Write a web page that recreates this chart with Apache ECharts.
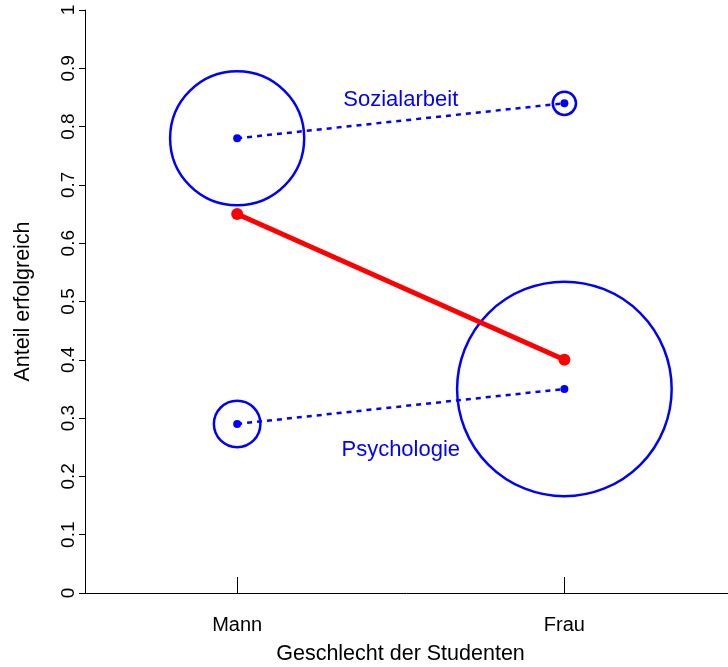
<!DOCTYPE html>
<html>
<head>
<meta charset="utf-8">
<script src="https://cdn.jsdelivr.net/npm/echarts@6/dist/echarts.min.js"></script>
<style>html,body{margin:0;padding:0;background:#fff}#c{width:728px;height:667px}</style>
</head>
<body>
<div id="c"></div>
<script>
var categories = ['Mann', 'Frau'];
var sozialarbeit = [0.78, 0.84];
var psychologie = [0.29, 0.35];
var gesamt = [0.65, 0.40];
var nSozialarbeit = [150, 26];
var nPsychologie = [52, 240];
var yTicks = [0, 0.1, 0.2, 0.3, 0.4, 0.5, 0.6, 0.7, 0.8, 0.9, 1];

var rScale = 0.447;
var blue = '#0000ff';
var red = '#ff0000';
var font = '"Liberation Sans", Arial, sans-serif';

function pts(arr) { return arr.map(function (v, i) { return [i, v]; }); }
function circles(arr, n) { return arr.map(function (v, i) { return { value: [i, v], symbolSize: 2 * n[i] * rScale }; }); }

var chart = echarts.init(document.getElementById('c'));
chart.setOption({
  animation: false,
  grid: { left: 85, right: 0, top: 10, bottom: 74, outerBoundsMode: 'none', containLabel: false },
  xAxis: {
    type: 'value', min: -0.465, max: 1.5,
    name: 'Geschlecht der Studenten', nameLocation: 'middle', nameGap: 50,
    nameTextStyle: { fontFamily: font, fontSize: 21.5, color: '#000', padding: [0, 12, 0, 0] },
    axisLine: { show: true, onZero: false, lineStyle: { color: '#000', width: 1 } },
    axisTick: { show: true, inside: true, length: 16, customValues: [0, 1], lineStyle: { color: '#000' } },
    axisLabel: { customValues: [0, 1], fontFamily: font, fontSize: 20, color: '#000', margin: 22,
      formatter: function (v) { return categories[Math.round(v)]; } },
    splitLine: { show: false }
  },
  yAxis: {
    type: 'value', min: 0, max: 1, interval: 0.1,
    name: 'Anteil erfolgreich', nameLocation: 'middle', nameGap: 51, nameRotate: 90,
    nameTextStyle: { fontFamily: font, fontSize: 21.5, color: '#000' },
    axisLine: { show: true, onZero: false, lineStyle: { color: '#000', width: 1 } },
    axisTick: { show: true, length: 6, lineStyle: { color: '#000' } },
    axisLabel: { rotate: 90, fontFamily: font, fontSize: 19, color: '#000', margin: 7,
      customValues: yTicks,
      formatter: function (v) { return String(Math.round(v * 10) / 10); } },
    splitLine: { show: false }
  },
  series: [
    { type: 'line', data: pts(sozialarbeit), symbol: 'circle', symbolSize: 8,
      itemStyle: { color: blue }, lineStyle: { color: blue, width: 2.5, type: [5, 5] } },
    { type: 'line', data: pts(psychologie), symbol: 'circle', symbolSize: 8,
      itemStyle: { color: blue }, lineStyle: { color: blue, width: 2.5, type: [5, 5] } },
    { type: 'scatter', data: circles(sozialarbeit, nSozialarbeit), symbol: 'circle',
      itemStyle: { color: 'rgba(0,0,0,0)', borderColor: blue, borderWidth: 2.5, opacity: 1 }, z: 3 },
    { type: 'scatter', data: circles(psychologie, nPsychologie), symbol: 'circle',
      itemStyle: { color: 'rgba(0,0,0,0)', borderColor: blue, borderWidth: 2.5, opacity: 1 }, z: 3 },
    { type: 'line', data: pts(gesamt), symbol: 'circle', symbolSize: 12,
      itemStyle: { color: red }, lineStyle: { color: red, width: 5 }, z: 4 },
    { type: 'scatter', symbolSize: 0, silent: true,
      data: [
        { value: [0.5, 0.845], name: 'Sozialarbeit' },
        { value: [0.5, 0.2455], name: 'Psychologie' }
      ],
      itemStyle: { opacity: 1 },
      label: { show: true, position: 'inside', formatter: '{b}', color: blue, fontFamily: font, fontSize: 22 } }
  ]
});
</script>
</body>
</html>
